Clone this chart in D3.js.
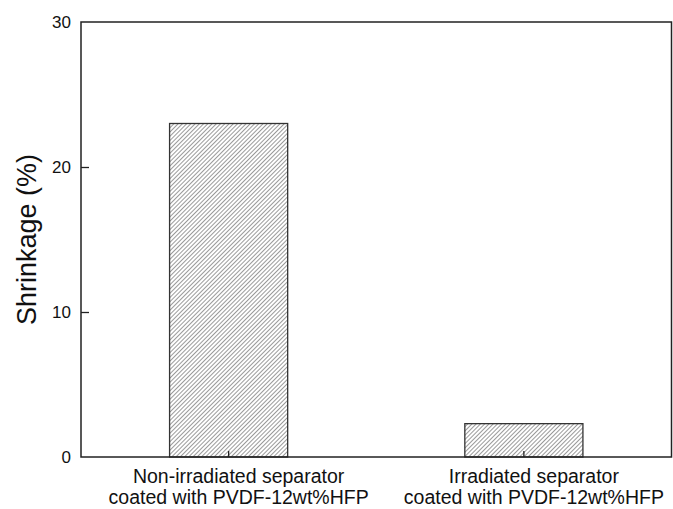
<!DOCTYPE html>
<html>
<head>
<meta charset="utf-8">
<script src="https://cdn.jsdelivr.net/npm/d3@7"></script>
<style>
  body { margin: 0; background: #fff; }
  svg { display: block; font-family: "Liberation Sans", Arial, sans-serif; }
</style>
</head>
<body>
<svg id="chart" width="673" height="509"></svg>
<script>
// Shrinkage of coated separators
const categories = [
  ["Non-irradiated separator", "coated with PVDF-12wt%HFP"],
  ["Irradiated separator", "coated with PVDF-12wt%HFP"]
];
const shrinkage = [23.0, 2.3];
const yTicks = [0, 10, 20, 30];

const svg = d3.select("#chart");
const margin = { left: 81, top: 22, right: 1.5, bottom: 52 };
const W = 673, H = 509;
const x0 = margin.left, x1 = W - margin.right;
const y0 = H - margin.bottom, y1 = margin.top;

const x = d3.scaleBand().domain(d3.range(categories.length))
  .range([x0, x1]).paddingInner(0.6).paddingOuter(0.3);
const y = d3.scaleLinear().domain([0, 30]).range([y0, y1]);

// diagonal hatch fill
const hs = 3.0;
const defs = svg.append("defs");
const pat = defs.append("pattern")
  .attr("id", "hatch").attr("patternUnits", "userSpaceOnUse")
  .attr("width", hs).attr("height", hs)
  .attr("patternTransform", "rotate(45)");
pat.append("rect").attr("width", hs).attr("height", hs).attr("fill", "#fff");
pat.append("line").attr("x1", 0).attr("y1", 0).attr("x2", 0).attr("y2", hs)
  .attr("stroke", "#555").attr("stroke-width", 1.2);

// bars
svg.append("g").selectAll("rect").data(shrinkage).join("rect")
  .attr("x", (d, i) => x(i))
  .attr("y", d => y(d))
  .attr("width", x.bandwidth())
  .attr("height", d => y(0) - y(d))
  .attr("fill", "url(#hatch)")
  .attr("stroke", "#333").attr("stroke-width", 1.3);

// left axis, ticks pointing inward
const yAxis = svg.append("g").attr("transform", `translate(${x0},0)`)
  .call(d3.axisLeft(y).tickValues(yTicks).tickSize(-8).tickPadding(10).tickFormat(d3.format("d")));
yAxis.select(".domain").remove();
yAxis.selectAll(".tick line").attr("stroke", "#222").attr("stroke-width", 1.3)
  .filter(d => d === 0 || d === 30).remove();
yAxis.selectAll(".tick text").attr("font-size", 17).attr("fill", "#111")
  .attr("font-family", "Liberation Sans, Arial, sans-serif");

// bottom axis ticks at category centres, pointing inward
const xAxis = svg.append("g").attr("transform", `translate(0,${y0})`)
  .call(d3.axisBottom(x).tickSize(-6).tickFormat(""));
xAxis.select(".domain").remove();
xAxis.selectAll(".tick line").attr("stroke", "#222").attr("stroke-width", 1.3);

// category labels (set slightly right of the bar centres)
const lab = svg.append("g").selectAll("text").data(categories).join("text")
  .attr("text-anchor", "middle").attr("font-size", 19.5).attr("fill", "#111");
lab.each(function (d, i) {
  const t = d3.select(this);
  d.forEach((line, k) => {
    t.append("tspan").attr("x", x(i) + x.bandwidth() / 2 + 10)
      .attr("y", y0 + 26 + k * 21).text(line);
  });
});

// frame
svg.append("rect").attr("x", x0).attr("y", y1)
  .attr("width", x1 - x0).attr("height", y0 - y1)
  .attr("fill", "none").attr("stroke", "#222").attr("stroke-width", 1.5);

// y axis title
svg.append("text")
  .attr("transform", `translate(36,${(y0 + y1) / 2}) rotate(-90)`)
  .attr("text-anchor", "middle").attr("font-size", 27).attr("fill", "#111")
  .text("Shrinkage (%)");
</script>
</body>
</html>
